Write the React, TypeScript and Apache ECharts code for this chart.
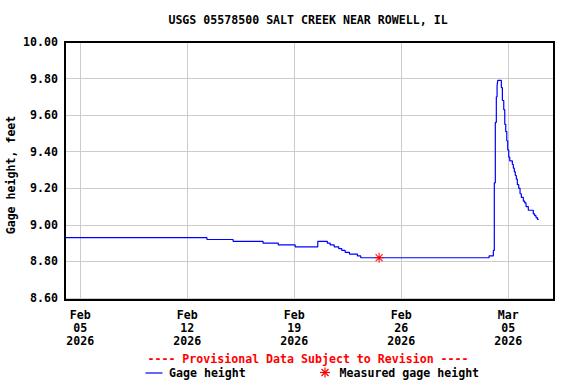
import React, { useEffect, useRef } from 'react';
import * as echarts from 'echarts';

const chartTitle = 'USGS 05578500 SALT CREEK NEAR ROWELL, IL';
const yAxisTitle = 'Gage height, feet';
const provisionalNote = '---- Provisional Data Subject to Revision ----';
const gageSeriesName = 'Gage height';
const measuredSeriesName = 'Measured gage height';

const xRange = ['2026-02-04 00:00', '2026-03-08 00:00'];
const xTickDates = ['2026-02-05 00:00', '2026-02-12 00:00', '2026-02-19 00:00', '2026-02-26 00:00', '2026-03-05 00:00'];
const yRange = [8.6, 10.0];
const yStep = 0.2;

const gageTimes = [
  '2026-02-04 00:00', '2026-02-13 07:00', '2026-02-15 00:00', '2026-02-16 23:00', '2026-02-17 23:00',
  '2026-02-19 01:30', '2026-02-20 13:00', '2026-02-21 04:00', '2026-02-21 08:30', '2026-02-21 14:45',
  '2026-02-21 22:00', '2026-02-22 02:45', '2026-02-22 08:00', '2026-02-22 14:45', '2026-02-23 03:15',
  '2026-02-23 08:30', '2026-03-03 18:00', '2026-03-04 00:45', '2026-03-04 02:15', '2026-03-04 03:50',
  '2026-03-04 05:25', '2026-03-04 06:35', '2026-03-04 07:40', '2026-03-04 13:20', '2026-03-04 14:55',
  '2026-03-04 17:05', '2026-03-04 18:40', '2026-03-04 20:10', '2026-03-04 21:50', '2026-03-04 23:20',
  '2026-03-05 00:55', '2026-03-05 02:30', '2026-03-05 06:35', '2026-03-05 08:10', '2026-03-05 09:40',
  '2026-03-05 11:15', '2026-03-05 12:50', '2026-03-05 14:25', '2026-03-05 16:35', '2026-03-05 18:40',
  '2026-03-05 20:40', '2026-03-05 23:50', '2026-03-06 02:00', '2026-03-06 04:05', '2026-03-06 07:40',
  '2026-03-06 15:30', '2026-03-06 17:40', '2026-03-06 19:45', '2026-03-06 21:50', '2026-03-07 00:00',
];
const gageHeights = [
  8.93, 8.92, 8.91, 8.90, 8.89,
  8.88, 8.91, 8.90, 8.89, 8.88,
  8.87, 8.86, 8.85, 8.84, 8.83,
  8.82, 8.83, 8.86, 9.23, 9.56,
  9.70, 9.76, 9.79, 9.75, 9.68,
  9.63, 9.55, 9.51, 9.46, 9.41,
  9.37, 9.35, 9.33, 9.31, 9.29,
  9.27, 9.25, 9.22, 9.20, 9.17,
  9.15, 9.13, 9.12, 9.10, 9.08,
  9.06, 9.05, 9.04, 9.03, 9.03,
];

const measuredTimes = ['2026-02-24 13:20'];
const measuredHeights = [8.82];

const MONTHS = ['Jan', 'Feb', 'Mar', 'Apr', 'May', 'Jun', 'Jul', 'Aug', 'Sep', 'Oct', 'Nov', 'Dec'];
const FONT = '"DejaVu Sans Mono", "Liberation Mono", monospace';

function parseTime(s: string): number {
  const [d, t] = s.split(' ');
  const [y, m, day] = d.split('-').map(Number);
  const [hh, mm] = (t || '00:00').split(':').map(Number);
  return new Date(y, m - 1, day, hh, mm).getTime();
}

export default function App() {
  const ref = useRef<HTMLDivElement>(null);

  useEffect(() => {
    document.body.style.margin = '0';
    if (!ref.current) return;
    const chart = echarts.init(ref.current, null, { renderer: 'svg' });
    const tickValues = xTickDates.map(parseTime);
    const labelStyle = { fontFamily: FONT, fontWeight: 'bold' as const, fontSize: 11.6, color: '#000' };

    const option: any = {
      animation: false,
      backgroundColor: '#ffffff',
      grid: { left: 65, right: 22, top: 42, bottom: 86, containLabel: false },
      xAxis: {
        type: 'value',
        min: parseTime(xRange[0]),
        max: parseTime(xRange[1]),
        axisLine: { show: false },
        axisTick: { show: false, customValues: tickValues },
        axisLabel: {
          ...labelStyle,
          customValues: tickValues,
          margin: 10,
          lineHeight: 13,
          hideOverlap: false,
          formatter: (v: number) => {
            const d = new Date(v);
            return `${MONTHS[d.getMonth()]}\n${String(d.getDate()).padStart(2, '0')}\n${d.getFullYear()}`;
          },
        },
        splitLine: { show: true, lineStyle: { color: '#cccccc', width: 1 } },
      },
      yAxis: {
        type: 'value',
        min: yRange[0],
        max: yRange[1],
        interval: yStep,
        axisLine: { show: false },
        axisTick: { show: false },
        axisLabel: { ...labelStyle, margin: 7, formatter: (v: number) => v.toFixed(2) },
        splitLine: { show: true, lineStyle: { color: '#cccccc', width: 1 } },
      },
      series: [
        {
          name: gageSeriesName,
          type: 'line',
          step: 'end',
          symbol: 'none',
          showSymbol: false,
          lineStyle: { color: '#0000ff', width: 1.2 },
          data: gageTimes.map((t, i) => [parseTime(t), gageHeights[i]]),
          z: 3,
        },
        {
          name: measuredSeriesName,
          type: 'scatter',
          symbol: 'path://M5 0 L5 10 M0 5 L10 5 M1.5 1.5 L8.5 8.5 M8.5 1.5 L1.5 8.5 M3.6 5 A1.4 1.4 0 1 1 6.4 5 A1.4 1.4 0 1 1 3.6 5',
          symbolSize: 10,
          itemStyle: { color: '#ff0000', borderColor: '#ff0000', borderWidth: 1.2 },
          data: measuredTimes.map((t, i) => [parseTime(t), measuredHeights[i]]),
          z: 4,
        },
      ],
      graphic: [
        {
          type: 'text', x: 308, y: 20,
          style: { text: chartTitle, fill: '#000', align: 'center', verticalAlign: 'middle', font: `bold 11.6px ${FONT}` },
        },
        {
          type: 'text', x: 11, y: 175, rotation: Math.PI / 2,
          style: { text: yAxisTitle, fill: '#000', align: 'center', verticalAlign: 'middle', font: `bold 11.6px ${FONT}` },
        },
        {
          type: 'rect', shape: { x: 65, y: 42, width: 489, height: 258 },
          style: { fill: 'none', stroke: '#000', lineWidth: 2 }, z: 10,
        },
        {
          type: 'text', x: 308, y: 359,
          style: { text: provisionalNote, fill: '#ff0000', align: 'center', verticalAlign: 'middle', font: `bold 11.6px ${FONT}` },
        },
        {
          type: 'line', shape: { x1: 145.5, y1: 373, x2: 162.5, y2: 373 },
          style: { stroke: '#0000ff', lineWidth: 1.2 },
        },
        {
          type: 'text', x: 169, y: 373,
          style: { text: gageSeriesName, fill: '#000', align: 'left', verticalAlign: 'middle', font: `bold 11.6px ${FONT}` },
        },
        {
          type: 'group', x: 325, y: 372.5,
          children: [
            { type: 'line', shape: { x1: -5, y1: 0, x2: 5, y2: 0 }, style: { stroke: '#ff0000', lineWidth: 1.2 } },
            { type: 'line', shape: { x1: 0, y1: -5, x2: 0, y2: 5 }, style: { stroke: '#ff0000', lineWidth: 1.2 } },
            { type: 'line', shape: { x1: -3.5, y1: -3.5, x2: 3.5, y2: 3.5 }, style: { stroke: '#ff0000', lineWidth: 1.2 } },
            { type: 'line', shape: { x1: 3.5, y1: -3.5, x2: -3.5, y2: 3.5 }, style: { stroke: '#ff0000', lineWidth: 1.2 } },
          ],
        },
        {
          type: 'text', x: 339.5, y: 373,
          style: { text: measuredSeriesName, fill: '#000', align: 'left', verticalAlign: 'middle', font: `bold 11.6px ${FONT}` },
        },
      ],
    };

    chart.setOption(option);
    return () => chart.dispose();
  }, []);

  return <div ref={ref} style={{ width: 576, height: 384 }} />;
}
